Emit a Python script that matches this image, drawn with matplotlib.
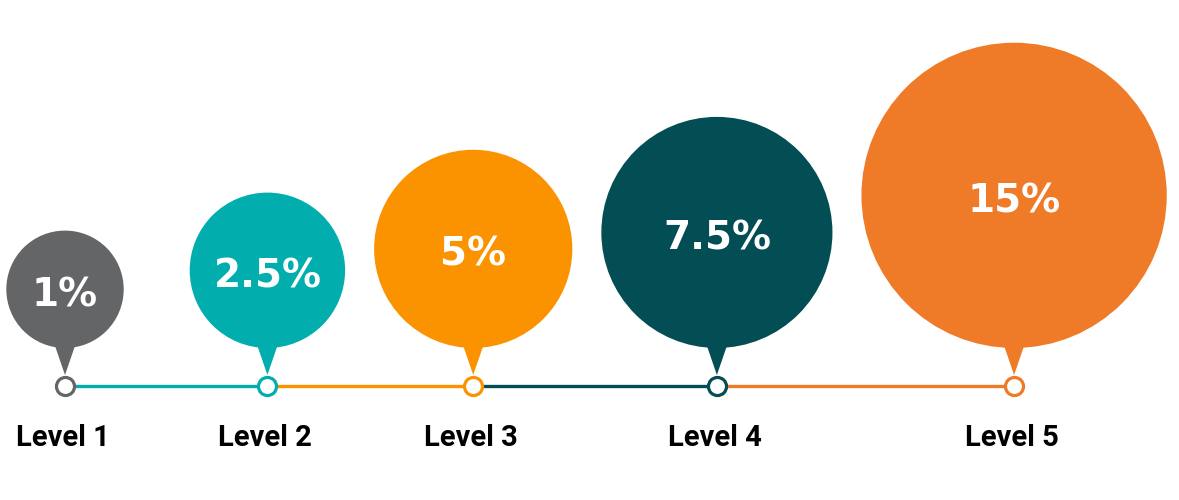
import numpy as np
import matplotlib
matplotlib.use("Agg")
import matplotlib.pyplot as plt
from matplotlib.patches import Circle, Polygon

levels = ["Level 1", "Level 2", "Level 3", "Level 4", "Level 5"]
values = [1, 2.5, 5, 7.5, 15]
value_labels = ["1%", "2.5%", "5%", "7.5%", "15%"]

colors = ["#646567", "#02adad", "#fb9300", "#034e54", "#ef7b29"]

# layout (pixel units, y grows downward)
W, H = 1179, 500
line_y = 386
bottom_y = 348
gaps = [66, 29, 29, 29]  # space before each circle after the first
x_first = 65

def radius(v):
    # bubble size scale
    return 26 + 32.7 * np.sqrt(v)

radii = [radius(v) for v in values]
xs = [x_first]
for i in range(1, len(values)):
    xs.append(xs[-1] + radii[i - 1] + radii[i] + gaps[i - 1])

fig = plt.figure(figsize=(W / 100, H / 100), dpi=100)
ax = fig.add_axes([0, 0, 1, 1])
ax.set_xlim(0, W)
ax.set_ylim(H, 0)
ax.set_aspect("equal")
ax.axis("off")

# timeline segments
for i in range(len(xs) - 1):
    ax.plot([xs[i], xs[i + 1]], [line_y, line_y], color=colors[i + 1],
            linewidth=2.4, solid_capstyle="butt", zorder=1)

for i, (x, r) in enumerate(zip(xs, radii)):
    cy = bottom_y - r
    ax.add_patch(Circle((x, cy), r, color=colors[i], zorder=2, linewidth=0))
    # pointer
    tri = Polygon([(x - 12, bottom_y - 8), (x + 12, bottom_y - 8), (x, 375)],
                  closed=True, color=colors[i], zorder=2, linewidth=0)
    ax.add_patch(tri)
    ax.text(x, cy + 6, value_labels[i], color="white", fontsize=28,
            fontweight="bold", family="DejaVu Sans",
            ha="center", va="center", zorder=3)
    ax.plot([x], [line_y], marker="o", markersize=13, markerfacecolor="white",
            markeredgecolor=colors[i], markeredgewidth=2.3, zorder=4)
    ax.text(x - 2, 438, levels[i], color="black", fontsize=21, fontweight="bold",
            family="Roboto", ha="center", va="center")

fig.savefig("out.png", dpi=100, facecolor="white")
